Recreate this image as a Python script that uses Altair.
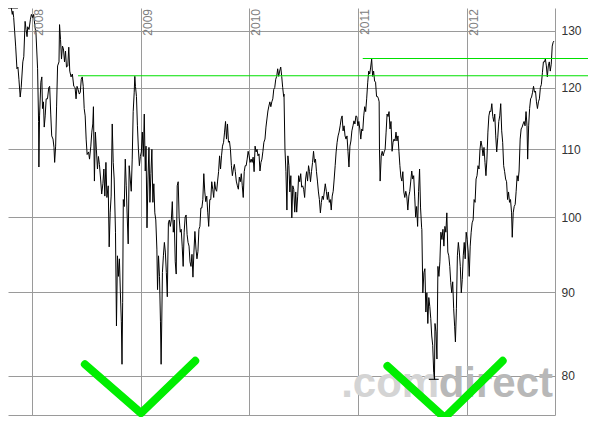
import altair as alt
import pandas as pd

# ---- price series (fractional year, price) ----
years_a = [
    2007.810, 2007.819, 2007.825, 2007.832, 2007.841, 2007.850, 2007.862, 2007.871, 2007.880, 2007.892,
    2007.901, 2007.916, 2007.925, 2007.937, 2007.946, 2007.955, 2007.961, 2007.973, 2007.986, 2007.995,
    2008.007, 2008.016, 2008.028, 2008.037, 2008.052, 2008.061, 2008.064, 2008.070, 2008.082, 2008.091,
    2008.097, 2008.106, 2008.113, 2008.122, 2008.131, 2008.143, 2008.155, 2008.163, 2008.173, 2008.182,
    2008.194, 2008.203, 2008.209, 2008.218, 2008.227, 2008.236, 2008.249, 2008.254, 2008.263, 2008.272,
    2008.281, 2008.290, 2008.300, 2008.309, 2008.318, 2008.330, 2008.339, 2008.348, 2008.360, 2008.372,
    2008.385, 2008.397, 2008.406, 2008.415, 2008.424, 2008.436, 2008.445, 2008.454, 2008.463, 2008.472,
    2008.481, 2008.490, 2008.499, 2008.508, 2008.521, 2008.530, 2008.542, 2008.551, 2008.560, 2008.566,
    2008.575, 2008.584, 2008.593, 2008.603, 2008.612, 2008.621, 2008.632, 2008.642, 2008.653, 2008.662,
    2008.671, 2008.681, 2008.690, 2008.702, 2008.711, 2008.720, 2008.729, 2008.739, 2008.748, 2008.757,
    2008.769, 2008.778, 2008.787, 2008.796, 2008.805, 2008.814, 2008.823, 2008.829, 2008.835, 2008.841,
    2008.850, 2008.859, 2008.868, 2008.877, 2008.886, 2008.895, 2008.905, 2008.914, 2008.923, 2008.932,
    2008.941, 2008.947, 2008.953, 2008.962, 2008.971, 2008.980, 2008.989, 2008.998, 2009.007, 2009.016,
    2009.025, 2009.034, 2009.043,
]
prices_a = [
    134.2, 133.0, 133.6, 132.4, 129.8, 127.2, 123.2, 123.5, 121.4, 118.4,
    120.0, 124.4, 125.3, 131.7, 130.2, 128.9, 130.7, 130.2, 132.1, 133.0,
    132.4, 133.0, 130.6, 129.6, 123.2, 114.4, 107.3, 115.3, 120.9, 121.8,
    116.5, 117.6, 113.5, 115.3, 118.1, 118.1, 120.0, 120.2, 115.6, 112.1,
    111.6, 110.3, 108.0, 110.5, 116.9, 123.7, 124.4, 131.1, 128.4, 124.9,
    127.2, 126.7, 124.4, 126.3, 123.5, 123.7, 127.0, 122.8, 121.8, 122.3,
    120.2, 120.0, 118.1, 120.2, 119.7, 118.9, 119.2, 121.4, 121.8, 120.2,
    116.5, 115.3, 111.6, 109.2, 109.6, 108.5, 110.5, 112.7, 114.0, 116.8,
    105.2, 112.7, 110.0, 107.0, 108.9, 107.7, 105.5, 103.3, 104.8, 107.0,
    103.0, 108.0, 102.8, 104.5, 95.9, 100.6, 103.0, 114.0, 108.0, 105.5,
    97.9, 85.8, 94.7, 92.0, 94.3, 89.9, 86.3, 81.3, 88.7, 102.5,
    101.5, 108.5, 104.5, 100.0, 96.3, 107.5, 105.5, 103.7, 108.5, 116.0,
    119.1, 121.9, 120.2, 118.5, 113.7, 110.0, 107.5, 108.9, 109.6, 112.7,
    108.9, 115.6, 106.7,
]

years_b = [
    2009.050, 2009.059, 2009.068, 2009.077, 2009.086, 2009.095, 2009.104, 2009.113, 2009.122, 2009.131,
    2009.140, 2009.150, 2009.156, 2009.165, 2009.174, 2009.183, 2009.189, 2009.195, 2009.201, 2009.210,
    2009.219, 2009.228, 2009.237, 2009.246, 2009.256, 2009.265, 2009.274, 2009.283, 2009.292, 2009.301,
    2009.310, 2009.319, 2009.328, 2009.337, 2009.346, 2009.355, 2009.365, 2009.374, 2009.383, 2009.392,
    2009.401, 2009.410, 2009.419, 2009.428, 2009.437, 2009.446, 2009.455, 2009.464, 2009.473, 2009.482,
    2009.491, 2009.500, 2009.510, 2009.519, 2009.528, 2009.537, 2009.546, 2009.555, 2009.564, 2009.573,
    2009.582, 2009.591, 2009.600, 2009.609, 2009.618, 2009.627, 2009.637, 2009.646, 2009.655, 2009.664,
    2009.673, 2009.682, 2009.691, 2009.700, 2009.709, 2009.718, 2009.727, 2009.736, 2009.745, 2009.754,
    2009.764, 2009.773, 2009.782, 2009.791, 2009.800, 2009.809, 2009.818, 2009.827, 2009.836, 2009.845,
    2009.854, 2009.863, 2009.872, 2009.881, 2009.891, 2009.900, 2009.909, 2009.918, 2009.927, 2009.936,
    2009.945, 2009.954, 2009.963, 2009.972, 2009.981, 2009.990, 2009.999, 2010.008, 2010.018, 2010.027,
    2010.036, 2010.045, 2010.054, 2010.063, 2010.072, 2010.081, 2010.090, 2010.099, 2010.108, 2010.117,
    2010.126, 2010.135, 2010.145, 2010.154, 2010.163, 2010.172, 2010.181, 2010.190, 2010.199, 2010.208,
    2010.217, 2010.226, 2010.235, 2010.244, 2010.253, 2010.262, 2010.271, 2010.280, 2010.290, 2010.299,
    2010.308, 2010.317,
]
prices_b = [
    110.5, 98.5, 105.5, 110.3, 102.1, 106.3, 110.0, 102.1, 104.8, 100.6,
    99.6, 95.6, 90.3, 94.7, 92.0, 86.3, 81.3, 86.4, 92.5, 94.7,
    96.5, 95.2, 92.5, 89.4, 99.2, 99.6, 98.7, 99.6, 102.2, 97.9,
    99.6, 93.9, 92.3, 104.5, 105.1, 99.9, 97.9, 98.3, 96.0, 93.3,
    97.9, 100.0, 100.3, 97.6, 96.5, 96.0, 93.9, 93.3, 94.9, 91.9,
    95.2, 98.0, 95.6, 94.3, 95.3, 98.3, 98.7, 101.3, 101.3, 102.5,
    106.3, 103.6, 102.2, 103.0, 100.7, 98.7, 102.5, 102.5, 105.1, 104.0,
    102.8, 105.1, 104.0, 103.7, 105.2, 106.6, 109.0, 107.0, 109.0, 110.5,
    111.1, 112.7, 114.4, 111.6, 114.0, 111.1, 111.3, 110.0, 107.5, 106.0,
    107.0, 107.7, 106.6, 105.2, 104.5, 104.0, 105.8, 105.1, 106.3, 104.5,
    102.8, 106.6, 107.5, 107.5, 108.5, 109.7, 109.0, 108.0, 108.5, 108.0,
    108.8, 106.6, 110.5, 109.6, 110.0, 109.0, 109.3, 106.7, 108.0, 108.5,
    109.7, 111.1, 111.6, 113.5, 114.8, 116.1, 116.9, 117.6, 116.8, 117.6,
    118.1, 119.7, 120.0, 121.4, 121.9, 123.2, 121.9, 122.8, 123.5, 121.9,
    120.0, 118.5,
]

years_c = [
    2010.320, 2010.329, 2010.338, 2010.347, 2010.356, 2010.365, 2010.374, 2010.383, 2010.392, 2010.401,
    2010.410, 2010.419, 2010.428, 2010.437, 2010.446, 2010.455, 2010.465, 2010.474, 2010.483, 2010.492,
    2010.501, 2010.510, 2010.519, 2010.528, 2010.537, 2010.546, 2010.555, 2010.564, 2010.573, 2010.583,
    2010.592, 2010.601, 2010.610, 2010.619, 2010.628, 2010.637, 2010.646, 2010.655, 2010.664, 2010.673,
    2010.682, 2010.691, 2010.700, 2010.710, 2010.719, 2010.728, 2010.737, 2010.746, 2010.755, 2010.764,
    2010.773, 2010.782, 2010.791, 2010.800, 2010.809, 2010.818, 2010.827, 2010.837, 2010.846, 2010.855,
    2010.864, 2010.873, 2010.882, 2010.891, 2010.900, 2010.909, 2010.918, 2010.927, 2010.936, 2010.945,
    2010.955, 2010.964, 2010.973, 2010.982, 2010.991, 2011.000, 2011.009, 2011.018, 2011.027, 2011.036,
    2011.045, 2011.054, 2011.063, 2011.072, 2011.081, 2011.091, 2011.100, 2011.109, 2011.118, 2011.127,
    2011.136, 2011.145, 2011.154, 2011.163, 2011.172, 2011.181, 2011.190, 2011.196, 2011.199, 2011.205,
    2011.215, 2011.224, 2011.233, 2011.242, 2011.251, 2011.260, 2011.269, 2011.278, 2011.287, 2011.296,
    2011.305, 2011.315, 2011.324, 2011.333, 2011.342, 2011.351, 2011.360, 2011.369, 2011.378, 2011.387,
    2011.396, 2011.405, 2011.414, 2011.423, 2011.432, 2011.441, 2011.450, 2011.460, 2011.469, 2011.478,
    2011.487, 2011.496, 2011.505, 2011.514, 2011.523, 2011.532, 2011.541, 2011.550, 2011.559, 2011.568,
    2011.577, 2011.587,
]
prices_c = [
    118.9, 110.0, 106.6, 101.0, 109.0, 107.5, 103.6, 106.0, 99.9, 104.5,
    104.0, 100.7, 103.6, 100.7, 103.0, 106.0, 105.1, 106.3, 104.3, 104.5,
    104.0, 102.8, 105.5, 106.6, 105.2, 107.5, 106.6, 105.1, 106.6, 108.0,
    109.7, 108.0, 108.5, 106.6, 105.2, 103.6, 102.5, 100.6, 102.1, 103.0,
    102.5, 103.6, 104.8, 103.7, 102.5, 103.6, 102.1, 102.5, 101.0, 103.0,
    103.7, 105.5, 107.5, 109.6, 111.1, 112.1, 112.7, 113.7, 114.8, 115.3,
    112.9, 113.7, 112.1, 111.6, 112.1, 109.7, 107.3, 110.5, 111.3, 112.9,
    113.7, 114.5, 114.0, 115.3, 115.2, 113.7, 114.4, 113.2, 111.6, 113.2,
    112.9, 115.3, 116.8, 116.0, 118.1, 120.9, 122.8, 122.3, 123.5, 124.9,
    121.9, 122.8, 121.1, 120.9, 118.5, 118.5, 118.1, 117.6, 110.0, 105.2,
    109.0, 109.7, 109.0, 109.6, 110.0, 112.7, 115.6, 115.2, 116.0, 113.2,
    114.4, 109.7, 111.1, 111.6, 111.3, 112.7, 111.3, 112.1, 109.7, 107.5,
    105.8, 105.2, 106.6, 103.6, 102.8, 103.7, 103.0, 101.0, 103.0, 103.7,
    105.2, 106.7, 105.5, 106.0, 103.0, 100.0, 101.5, 98.7, 103.7, 107.0,
    101.3, 98.5,
]

years_d = [
    2011.589, 2011.598, 2011.608, 2011.617, 2011.626, 2011.635, 2011.644, 2011.653, 2011.662, 2011.671,
    2011.680, 2011.689, 2011.698, 2011.705, 2011.710, 2011.719, 2011.728, 2011.737, 2011.746, 2011.755,
    2011.764, 2011.774, 2011.783, 2011.792, 2011.801, 2011.810, 2011.819, 2011.828, 2011.837, 2011.846,
    2011.855, 2011.864, 2011.873, 2011.882, 2011.891, 2011.898, 2011.907, 2011.916, 2011.925, 2011.934,
    2011.943, 2011.952, 2011.961, 2011.970, 2011.979, 2011.988, 2011.997, 2012.006, 2012.016, 2012.025,
    2012.034, 2012.043, 2012.052, 2012.061, 2012.070, 2012.079, 2012.088, 2012.097, 2012.106, 2012.115,
    2012.124, 2012.133, 2012.142, 2012.152, 2012.161, 2012.170, 2012.179, 2012.188, 2012.197, 2012.206,
    2012.215, 2012.224, 2012.233, 2012.242, 2012.251, 2012.260, 2012.269, 2012.278, 2012.288, 2012.297,
    2012.306, 2012.315, 2012.324, 2012.333, 2012.342, 2012.351, 2012.360, 2012.369, 2012.378, 2012.387,
    2012.396, 2012.405, 2012.415, 2012.421, 2012.430, 2012.439, 2012.448, 2012.457, 2012.466, 2012.475,
    2012.484, 2012.494, 2012.503, 2012.512, 2012.521, 2012.530, 2012.539, 2012.548, 2012.557, 2012.563,
    2012.572, 2012.581, 2012.590, 2012.599, 2012.608, 2012.617, 2012.626, 2012.635, 2012.644, 2012.653,
    2012.662, 2012.671, 2012.680, 2012.689, 2012.699, 2012.708, 2012.717, 2012.726, 2012.735, 2012.744,
    2012.753, 2012.762, 2012.771, 2012.780, 2012.789, 2012.798, 2012.805,
]
prices_d = [
    98.3, 89.9, 92.5, 93.0, 87.5, 89.9, 86.1, 89.3, 88.2, 86.7,
    84.6, 83.5, 80.4, 79.6, 86.1, 85.1, 81.9, 93.3, 92.0, 93.9,
    97.9, 96.9, 98.3, 96.0, 98.7, 97.9, 100.6, 95.2, 94.7, 93.3,
    91.2, 89.9, 91.3, 87.9, 85.7, 83.9, 87.9, 94.7, 96.5, 95.2,
    93.3, 89.9, 91.6, 94.7, 96.5, 94.3, 97.9, 96.9, 95.2, 92.0,
    96.0, 97.9, 99.2, 99.6, 102.5, 102.1, 105.5, 106.0, 107.5, 107.0,
    110.0, 111.3, 110.5, 109.0, 110.3, 108.0, 106.0, 108.5, 112.7, 115.3,
    116.1, 116.0, 117.3, 115.2, 114.4, 115.6, 112.1, 109.6, 111.9, 114.4,
    115.3, 117.3, 112.9, 111.1, 107.5, 106.6, 105.5, 105.1, 102.5, 103.6,
    102.1, 102.5, 100.6, 97.2, 100.6, 101.5, 101.8, 103.7, 106.0, 105.2,
    106.7, 111.6, 113.2, 113.5, 114.0, 114.4, 113.7, 116.0, 113.7, 108.5,
    113.7, 116.5, 118.1, 118.4, 119.2, 120.2, 119.2, 119.4, 117.6, 116.5,
    117.6, 118.1, 120.0, 120.5, 122.6, 124.4, 124.4, 124.9, 123.7, 121.8,
    123.7, 124.4, 122.8, 124.0, 127.2, 127.9, 128.1,
]

# ---- axis / annotation values ----
x_domain = [2007.7796, 2012.8146]
y_domain = [75.7, 134.2]
year_ticks = [2008, 2009, 2010, 2011, 2012]
price_ticks = [80, 90, 100, 110, 120, 130]

# resistance lines: level, start, end
level_prices = [122.0, 125.0]
level_start = [2008.424, 2011.045]
level_end = [2013.2, 2013.2]

# high / low markers
marker_prices = [134.2, 79.6]
marker_start = [2007.780, 2011.653]
marker_end = [2007.871, 2011.744]

# the two green "V" marks
v_id = [1, 1, 1, 2, 2, 2]
v_order = [0, 1, 2, 0, 1, 2]
v_years = [2008.487, 2009.004, 2009.503, 2011.272, 2011.798, 2012.333]
v_prices = [81.3, 75.9, 81.7, 81.1, 75.4, 81.7]

# watermark
wm_text = [".com", "direct"]
wm_years = [2010.846, 2011.744]
wm_prices = [77.6, 77.6]
wm_colors = ["#d4d4d4", "#b8b8b8"]

series = pd.DataFrame({
    "year": years_a + years_b + years_c + years_d,
    "price": prices_a + prices_b + prices_c + prices_d,
})
levels = pd.DataFrame({"year": level_start, "year_end": level_end, "price": level_prices})
markers = pd.DataFrame({"year": marker_start, "year_end": marker_end, "price": marker_prices})
vees = pd.DataFrame({"v": v_id, "o": v_order, "year": v_years, "price": v_prices})
wm = pd.DataFrame({"t": wm_text, "year": wm_years, "price": wm_prices, "c": wm_colors})
ylabels = pd.DataFrame({"year": year_ticks, "label": [str(y) for y in year_ticks]})

FONT = "Liberation Sans"
xs = alt.Scale(domain=x_domain, nice=False, zero=False)
ys = alt.Scale(type="log", domain=y_domain, nice=False)

x_axis = alt.Axis(values=year_ticks, grid=True, gridColor="#9a9a9a", labels=False,
                  ticks=False, tickSize=0, domain=True, domainColor="#9a9a9a", title=None)
y_axis = alt.Axis(orient="right", values=price_ticks, grid=True, gridColor="#9a9a9a",
                  ticks=False, tickSize=0, labelPadding=6, labelFontSize=12,
                  labelColor="#333333", labelFont=FONT, domain=True,
                  domainColor="#9a9a9a", title=None)

watermark = alt.Chart(wm).mark_text(
    align="left", baseline="alphabetic", fontSize=42, fontWeight="bold", font=FONT, clip=False
).encode(
    x=alt.X("year:Q", scale=xs, axis=x_axis),
    y=alt.Y("price:Q", scale=ys, axis=y_axis),
    text="t:N",
    color=alt.Color("c:N", scale=None),
)

price_line = alt.Chart(series).mark_line(color="black", strokeWidth=1, clip=False).encode(
    x=alt.X("year:Q", scale=xs),
    y=alt.Y("price:Q", scale=ys),
)

marker_rules = alt.Chart(markers).mark_rule(color="black", strokeWidth=1, clip=False).encode(
    x=alt.X("year:Q", scale=xs), x2="year_end:Q", y=alt.Y("price:Q", scale=ys)
)

level_rules = alt.Chart(levels).mark_rule(color="#00e000", strokeWidth=1.2, clip=False).encode(
    x=alt.X("year:Q", scale=xs), x2="year_end:Q", y=alt.Y("price:Q", scale=ys)
)

vee_lines = alt.Chart(vees).mark_line(
    color="#00ee00", strokeWidth=8, strokeCap="round", strokeJoin="round", clip=False
).encode(
    x=alt.X("year:Q", scale=xs),
    y=alt.Y("price:Q", scale=ys),
    detail="v:N",
    order="o:Q",
)

year_text = alt.Chart(ylabels).mark_text(
    angle=270, align="right", baseline="top", dy=2, fontSize=12, font=FONT, color="#808080"
).encode(
    x=alt.X("year:Q", scale=xs),
    y=alt.value(1),
    text="label:N",
)

chart = alt.layer(
    watermark, price_line, marker_rules, level_rules, vee_lines, year_text
).properties(
    width=547,
    height=407,
    autosize=alt.AutoSizeParams(type="none"),
    padding={"left": 0, "top": 0, "right": 33, "bottom": 2},
    background="white",
).configure_view(strokeWidth=0)

chart.save("out.html", embed_options={"renderer": "svg", "actions": False})
